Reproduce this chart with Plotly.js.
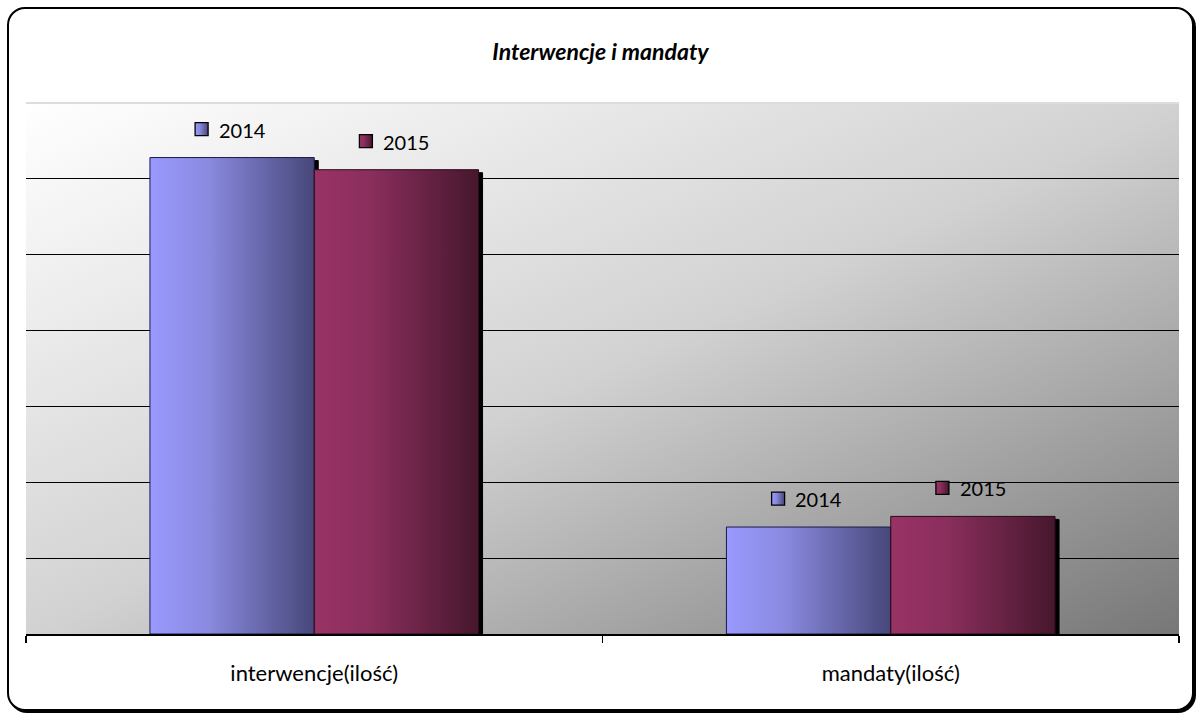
<!DOCTYPE html>
<html>
<head>
<meta charset="utf-8">
<script src="https://cdn.plot.ly/plotly-3.0.1.min.js"></script>
<style>
  html, body { margin: 0; padding: 0; background: #ffffff; }
  #frame {
    position: absolute; left: 7px; top: 7px;
    width: 1183px; height: 700px;
    border: 2px solid #000; border-radius: 18px;
    box-shadow: 2px 2px 0 #000;
    overflow: hidden; background: #fff;
  }
  #chart { width: 1183px; height: 700px; }
</style>
</head>
<body>
<div id="frame"><div id="chart"></div></div>
<script>
// ---- data ----
const categories = ['interwencje(ilość)', 'mandaty(ilość)'];
const seriesNames = ['2014', '2015'];
const values2014 = [628, 141];
const values2015 = [612, 155];
const titleText = 'Interwencje i mandaty';

// ---- styles ----
const bargap = 0.43;
const barW = (1 - bargap) / 2;           // width of one bar in category units
const keyColors = ['#8a8ae6', '#7d2a55'];
const lineColors = ['#1a1a4a', '#2a0a18'];
const FONT = 'Lato, "Open Sans", "Liberation Sans", sans-serif';

const series = [values2014, values2015];
const traces = series.map((vals, s) => ({
  type: 'bar',
  name: seriesNames[s],
  x: categories,
  y: vals,
  marker: { color: keyColors[s], line: { color: lineColors[s], width: 1 } },
  hoverinfo: 'skip'
}));

const annotations = [];
const shapes = [{
  type: 'line', xref: 'paper', yref: 'paper', x0: 0, x1: 1, y0: 1, y1: 1,
  line: { color: '#dddddd', width: 2 }, layer: 'below'
}];
const keyShapeSeries = {};
series.forEach((vals, s) => {
  vals.forEach((v, i) => {
    const xc = i + (s === 0 ? -barW / 2 : barW / 2);
    annotations.push({
      x: xc, y: v, xref: 'x', yref: 'y',
      text: seriesNames[s], showarrow: false,
      xanchor: 'center', yanchor: 'middle',
      xshift: 10, yshift: 28,
      font: { family: FONT, size: 20, color: '#000' }
    });
    keyShapeSeries[shapes.length] = s;
    shapes.push({
      type: 'rect', xref: 'x', yref: 'y',
      xsizemode: 'pixel', ysizemode: 'pixel',
      xanchor: xc, yanchor: v,
      x0: -37, x1: -24, y0: 22, y1: 35,
      fillcolor: keyColors[s], line: { color: '#000', width: 1.3 },
      layer: 'above'
    });
  });
});

const bgSvg = '<svg xmlns="http://www.w3.org/2000/svg" width="100" height="100" viewBox="0 0 100 100" preserveAspectRatio="none">' +
  '<defs><linearGradient id="g" x1="0" y1="0" x2="1" y2="1">' +
  '<stop offset="0" stop-color="#ffffff"/><stop offset="0.5" stop-color="#d2d2d2"/><stop offset="1" stop-color="#777777"/>' +
  '</linearGradient></defs><rect width="100" height="100" fill="url(#g)"/></svg>';

const layout = {
  width: 1183, height: 700,
  margin: { l: 17, r: 13, t: 94, b: 75 },
  paper_bgcolor: 'rgba(0,0,0,0)',
  plot_bgcolor: 'rgba(0,0,0,0)',
  showlegend: false,
  barmode: 'group',
  bargap: bargap,
  bargroupgap: 0,
  title: {
    text: titleText,
    font: { family: FONT, size: 23, color: '#000', weight: 'bold', style: 'italic' },
    x: 0.5, xanchor: 'center', y: 1 - 43 / 700, yanchor: 'middle'
  },
  xaxis: {
    type: 'category',
    showline: true, linecolor: '#000', linewidth: 1.5,
    ticks: 'outside', tickson: 'boundaries', ticklen: 7, tickcolor: '#000', tickwidth: 1.5,
    tickfont: { family: FONT, size: 22, color: '#000' },
    ticklabelstandoff: 19,
    showgrid: false, zeroline: false, fixedrange: true
  },
  yaxis: {
    range: [0, 699.9], dtick: 100, tick0: 0,
    showticklabels: false, ticks: '',
    showgrid: true, gridcolor: '#000', gridwidth: 1,
    zeroline: false, showline: false, fixedrange: true
  },
  images: [{
    source: 'data:image/svg+xml;charset=utf-8,' + encodeURIComponent(bgSvg),
    xref: 'paper', yref: 'paper', x: 0, y: 1, sizex: 1, sizey: 1,
    xanchor: 'left', yanchor: 'top', sizing: 'stretch', layer: 'below'
  }],
  shapes: shapes,
  annotations: annotations
};

Plotly.newPlot('chart', traces, layout, { displayModeBar: false, staticPlot: true }).then(gd => {
  const svg = gd.querySelector('svg.main-svg');
  const ns = 'http://www.w3.org/2000/svg';
  let defs = svg.querySelector('defs');
  if (!defs) { defs = document.createElementNS(ns, 'defs'); svg.insertBefore(defs, svg.firstChild); }
  const grads = [
    ['barg0', [['0', '#9999ff'], ['0.35', '#8a8ae0'], ['1', '#47477a']]],
    ['barg1', [['0', '#993366'], ['0.35', '#8a2e5c'], ['1', '#46172d']]]
  ];
  grads.forEach(([id, stops]) => {
    const lg = document.createElementNS(ns, 'linearGradient');
    lg.setAttribute('id', id);
    lg.setAttribute('x1', '0'); lg.setAttribute('y1', '0');
    lg.setAttribute('x2', '1'); lg.setAttribute('y2', '0');
    stops.forEach(([o, c]) => {
      const st = document.createElementNS(ns, 'stop');
      st.setAttribute('offset', o); st.setAttribute('stop-color', c);
      lg.appendChild(st);
    });
    defs.appendChild(lg);
  });
  gd.querySelectorAll('.barlayer .trace').forEach((tr, s) => {
    tr.querySelectorAll('path').forEach(p => {
      p.style.fill = 'url(#barg' + s + ')';
      p.style.filter = 'drop-shadow(4px 3px 0 #000)';
    });
  });
  gd.querySelectorAll('.shapelayer path[data-index]').forEach(p => {
    const idx = +p.getAttribute('data-index');
    if (idx in keyShapeSeries) p.style.fill = 'url(#barg' + keyShapeSeries[idx] + ')';
  });
});
</script>
</body>
</html>
